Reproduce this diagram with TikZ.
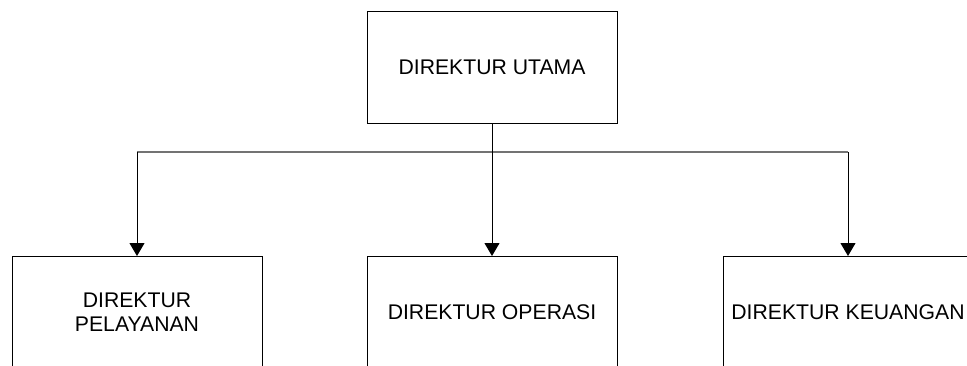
\documentclass[tikz,border=0pt]{standalone}
\usepackage{fontspec}
\setmainfont{Liberation Sans}
\usetikzlibrary{arrows.meta}
\begin{document}
\begin{tikzpicture}[x=1pt,y=1pt,
  orgbox/.style={draw=black,line width=0.9pt,minimum width=250pt,minimum height=112pt,
    inner sep=0pt,align=center,anchor=north,font=\fontsize{21.2}{23.5}\selectfont},
  link/.style={draw=black,line width=1pt,-{Triangle[width=15pt,length=13pt]}},
  barline/.style={draw=black!55,line width=1.3pt}]
\useasboundingbox (0,0) rectangle (967,-365);
\clip (0,0) rectangle (967,-365);
\node[orgbox] (top) at (492,-11) {DIREKTUR UTAMA};
\node[orgbox] (left) at (137,-256) {DIREKTUR\\PELAYANAN};
\node[orgbox] (mid) at (492,-256) {DIREKTUR OPERASI};
\node[orgbox] (right) at (848,-256) {DIREKTUR KEUANGAN};
\coordinate (j) at (492,-152);
\draw[barline] (left.north |- j) -- (right.north |- j);
\draw[link] (top.south) -- (mid.north);
\draw[link] (left.north |- j) -- (left.north);
\draw[link] (right.north |- j) -- (right.north);
\end{tikzpicture}
\end{document}
